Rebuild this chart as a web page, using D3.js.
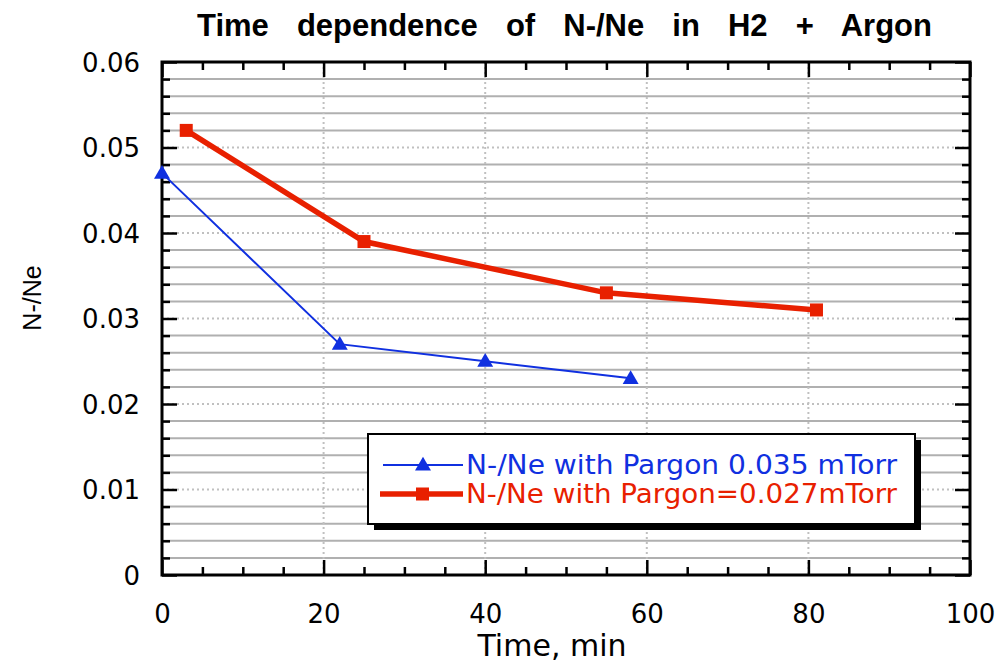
<!DOCTYPE html>
<html>
<head>
<meta charset="utf-8">
<script src="https://cdn.jsdelivr.net/npm/d3@7"></script>
<style>
  html, body { margin: 0; padding: 0; background: #fff; overflow: hidden; }
  svg { display: block; }
</style>
</head>
<body>
<svg id="chart" width="998" height="663"></svg>
<script>
// Series: N-/Ne ratio against time (minutes)
const blueTime = [0, 22, 40, 58];
const blueRatio = [0.047, 0.027, 0.025, 0.023];
const redTime = [3, 25, 55, 81];
const redRatio = [0.052, 0.039, 0.033, 0.031];

const xTicks = [0, 20, 40, 60, 80, 100];
const yTicks = [0, 0.01, 0.02, 0.03, 0.04, 0.05, 0.06];
const yTickLabels = ["0", "0.01", "0.02", "0.03", "0.04", "0.05", "0.06"];

const titleText = "Time dependence of N-/Ne in H2 + Argon";
const xLabel = "Time, min";
const yLabel = "N-/Ne";
const blueName = "N-/Ne with Pargon 0.035 mTorr";
const redName = "N-/Ne with Pargon=0.027mTorr";

const BLUE = "#1030e0";
const RED = "#e82000";

const svg = d3.select("#chart");
const L = 162, R = 970, T = 62, B = 575;

const x = d3.scaleLinear().domain([0, 100]).range([L, R]);
const y = d3.scaleLinear().domain([0, 0.06]).range([B, T]);

const minorY = d3.range(0, 0.0601, 0.002).filter(v => Math.abs(v * 100 - Math.round(v * 100)) > 1e-6);
const minorX = d3.range(0, 100.1, 5).filter(v => v % 20 !== 0);

// Minor horizontal grid (solid grey)
svg.append("g").selectAll("line").data(minorY).join("line")
  .attr("x1", L).attr("x2", R)
  .attr("y1", d => y(d)).attr("y2", d => y(d))
  .attr("stroke", "#b0b0b0").attr("stroke-width", 2);

// Major grid (dotted)
svg.append("g").selectAll("line").data(yTicks.slice(1, -1)).join("line")
  .attr("x1", L).attr("x2", R)
  .attr("y1", d => y(d)).attr("y2", d => y(d))
  .attr("stroke", "#c0c0c0").attr("stroke-width", 2).attr("stroke-dasharray", "2,3");
svg.append("g").selectAll("line").data(xTicks.slice(1, -1)).join("line")
  .attr("y1", T).attr("y2", B)
  .attr("x1", d => x(d)).attr("x2", d => x(d))
  .attr("stroke", "#c0c0c0").attr("stroke-width", 2).attr("stroke-dasharray", "2,3");

// Axes with inward ticks on all four sides
function tickAxis(axisFn, scale, vals, size, transform) {
  const g = svg.append("g").attr("transform", transform)
    .call(axisFn(scale).tickValues(vals).tickSize(size).tickFormat(""));
  g.select(".domain").remove();
  g.selectAll(".tick line").attr("stroke", "#000").attr("stroke-width", 2.5);
  return g;
}
tickAxis(d3.axisTop, x, xTicks, 15, `translate(0,${B})`);
tickAxis(d3.axisTop, x, minorX, 8, `translate(0,${B})`);
tickAxis(d3.axisBottom, x, xTicks, 15, `translate(0,${T})`);
tickAxis(d3.axisBottom, x, minorX, 8, `translate(0,${T})`);
tickAxis(d3.axisRight, y, yTicks, 15, `translate(${L},0)`);
tickAxis(d3.axisRight, y, minorY, 8, `translate(${L},0)`);
tickAxis(d3.axisLeft, y, yTicks, 15, `translate(${R},0)`);
tickAxis(d3.axisLeft, y, minorY, 8, `translate(${R},0)`);

// Frame
svg.append("rect").attr("x", L).attr("y", T).attr("width", R - L).attr("height", B - T)
  .attr("fill", "none").attr("stroke", "#000").attr("stroke-width", 3);

// Tick labels
const xLab = svg.append("g").attr("transform", `translate(0,${B})`)
  .call(d3.axisBottom(x).tickValues(xTicks).tickSize(0).tickPadding(0).tickFormat(d3.format("d")));
xLab.select(".domain").remove();
xLab.selectAll("text").attr("y", 48).attr("dy", 0)
  .attr("font-family", "DejaVu Sans").attr("font-size", 26).attr("fill", "#000");

const yLab = svg.append("g").attr("transform", `translate(${L},0)`)
  .call(d3.axisLeft(y).tickValues(yTicks).tickSize(0).tickPadding(0).tickFormat((d, i) => yTickLabels[i]));
yLab.select(".domain").remove();
yLab.selectAll("text").attr("x", -22).attr("dy", "0.36em")
  .attr("font-family", "DejaVu Sans").attr("font-size", 26).attr("fill", "#000");

// Title with wide gaps between words
const title = svg.append("text").attr("x", 564.5).attr("y", 36)
  .attr("text-anchor", "middle").attr("font-family", "Liberation Sans")
  .attr("font-weight", "bold").attr("font-size", 31).text(titleText);
{
  const natural = title.node().getComputedTextLength();
  const spaces = titleText.split(" ").length - 1;
  title.attr("word-spacing", Math.max(0, (735 - natural) / spaces));
}

// Axis titles
svg.append("text").attr("x", 552).attr("y", 656).attr("text-anchor", "middle")
  .attr("font-family", "DejaVu Sans").attr("font-size", 30).text(xLabel);
svg.append("text").attr("transform", "translate(41,298) rotate(-90)").attr("text-anchor", "middle")
  .attr("font-family", "Liberation Sans").attr("font-size", 25).text(yLabel);

// Series lines and markers
const blueData = blueTime.map((t, i) => [t, blueRatio[i]]);
const redData = redTime.map((t, i) => [t, redRatio[i]]);
const line = d3.line().x(d => x(d[0])).y(d => y(d[1]));

svg.append("path").datum(blueData).attr("d", line)
  .attr("fill", "none").attr("stroke", BLUE).attr("stroke-width", 2);
svg.append("path").datum(redData).attr("d", line)
  .attr("fill", "none").attr("stroke", RED).attr("stroke-width", 5.5);

const tri = d3.symbol().type(d3.symbolTriangle).size(110);
svg.append("g").selectAll("path").data(blueData).join("path")
  .attr("d", tri).attr("transform", d => `translate(${x(d[0])},${y(d[1]) + 1})`)
  .attr("fill", BLUE);
svg.append("g").selectAll("rect").data(redData).join("rect")
  .attr("x", d => x(d[0]) - 6.5).attr("y", d => y(d[1]) - 6.5)
  .attr("width", 13).attr("height", 13).attr("fill", RED);

// Legend
const lg = svg.append("g");
lg.append("rect").attr("x", 374).attr("y", 440).attr("width", 547).attr("height", 90).attr("fill", "#000");
lg.append("rect").attr("x", 368).attr("y", 434).attr("width", 547).attr("height", 90)
  .attr("fill", "#fff").attr("stroke", "#000").attr("stroke-width", 2);
lg.append("line").attr("x1", 383).attr("x2", 463).attr("y1", 465).attr("y2", 465)
  .attr("stroke", BLUE).attr("stroke-width", 2);
lg.append("path").attr("d", tri).attr("transform", "translate(423,466)").attr("fill", BLUE);
lg.append("line").attr("x1", 380).attr("x2", 463).attr("y1", 494).attr("y2", 494)
  .attr("stroke", RED).attr("stroke-width", 5.5);
lg.append("rect").attr("x", 416).attr("y", 487.5).attr("width", 13).attr("height", 13).attr("fill", RED);
lg.append("text").attr("x", 466).attr("y", 474).attr("font-family", "DejaVu Sans").attr("font-size", 26)
  .attr("fill", BLUE).attr("textLength", 431).attr("lengthAdjust", "spacingAndGlyphs").text(blueName);
lg.append("text").attr("x", 466).attr("y", 503).attr("font-family", "DejaVu Sans").attr("font-size", 26)
  .attr("fill", RED).attr("textLength", 431).attr("lengthAdjust", "spacingAndGlyphs").text(redName);
</script>
</body>
</html>
